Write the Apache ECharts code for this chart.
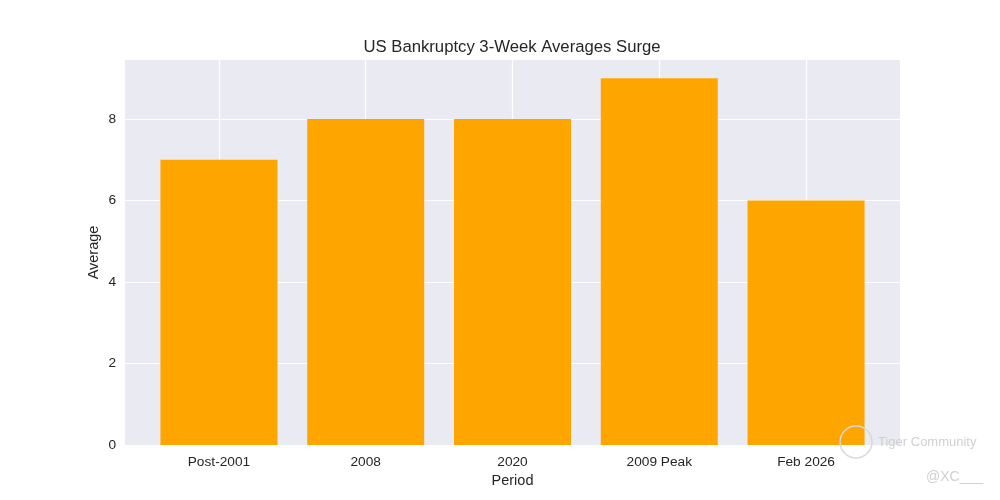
<!DOCTYPE html>
<html>
<head>
<meta charset="utf-8">
<script src="https://cdn.jsdelivr.net/npm/echarts@6/dist/echarts.min.js"></script>
<style>html,body{margin:0;padding:0;background:#fff}#c{width:1000px;height:500px}</style>
</head>
<body>
<div id="c"></div>
<script>
const categories = ['Post-2001', '2008', '2020', '2009 Peak', 'Feb 2026'];
const values = [7, 8, 8, 9, 6];
const yTicks = [0, 2, 4, 6, 8];

const positions = categories.map((c, i) => i);
const chart = echarts.init(document.getElementById('c'));
const font = 'Liberation Sans, Arial, sans-serif';
chart.setOption({
  animation: false,
  title: {
    text: 'US Bankruptcy 3-Week Averages Surge',
    left: 507, textAlign: 'center', top: 34,
    textStyle: { fontFamily: font, fontSize: 16.7, fontWeight: 'normal', color: '#262626' }
  },
  grid: { left: 125, width: 775, top: 60, height: 385, backgroundColor: '#EAEAF2', show: true, borderWidth: 0 },
  xAxis: {
    type: 'value', min: -0.64, max: 4.64,
    name: 'Period', nameLocation: 'middle', nameGap: 28,
    nameTextStyle: { fontFamily: font, fontSize: 14.5, color: '#262626' },
    axisLine: { show: false },
    axisTick: { show: false, customValues: positions },
    splitLine: { show: true, lineStyle: { color: '#ffffff', width: 1.2 } },
    axisLabel: {
      customValues: positions, margin: 10,
      formatter: v => categories[Math.round(v)] ?? '',
      fontFamily: font, fontSize: 13.7, color: '#262626'
    }
  },
  yAxis: {
    type: 'value', min: 0, max: 9.45, interval: 2,
    name: 'Average', nameLocation: 'middle', nameGap: 24, nameMoveOverlap: false,
    nameTextStyle: { fontFamily: font, fontSize: 14.5, color: '#262626' },
    axisLine: { show: false },
    axisTick: { show: false, customValues: yTicks },
    splitLine: { lineStyle: { color: '#ffffff', width: 1.2 } },
    axisLabel: {
      customValues: yTicks, margin: 9,
      fontFamily: font, fontSize: 13.7, color: '#262626'
    }
  },
  graphic: [
    { type: 'circle', shape: { cx: 856, cy: 442, r: 16 }, style: { fill: 'none', stroke: '#d8d8d8', lineWidth: 1.5 }, z: 100 },
    { type: 'text', left: 878, top: 436, style: { text: 'Tiger Community', fill: '#d0d0d0', font: '13px ' + font }, z: 100 },
    { type: 'text', left: 926, top: 470, style: { text: '@XC___', fill: '#d0d0d0', font: '14px ' + font }, z: 100 }
  ],
  series: [
    {
      type: 'bar', z: 2,
      data: positions.map((p, i) => [p, values[i]]),
      barWidth: 117,
      itemStyle: { color: '#FFA500' }
    }
  ]
});
</script>
</body>
</html>
